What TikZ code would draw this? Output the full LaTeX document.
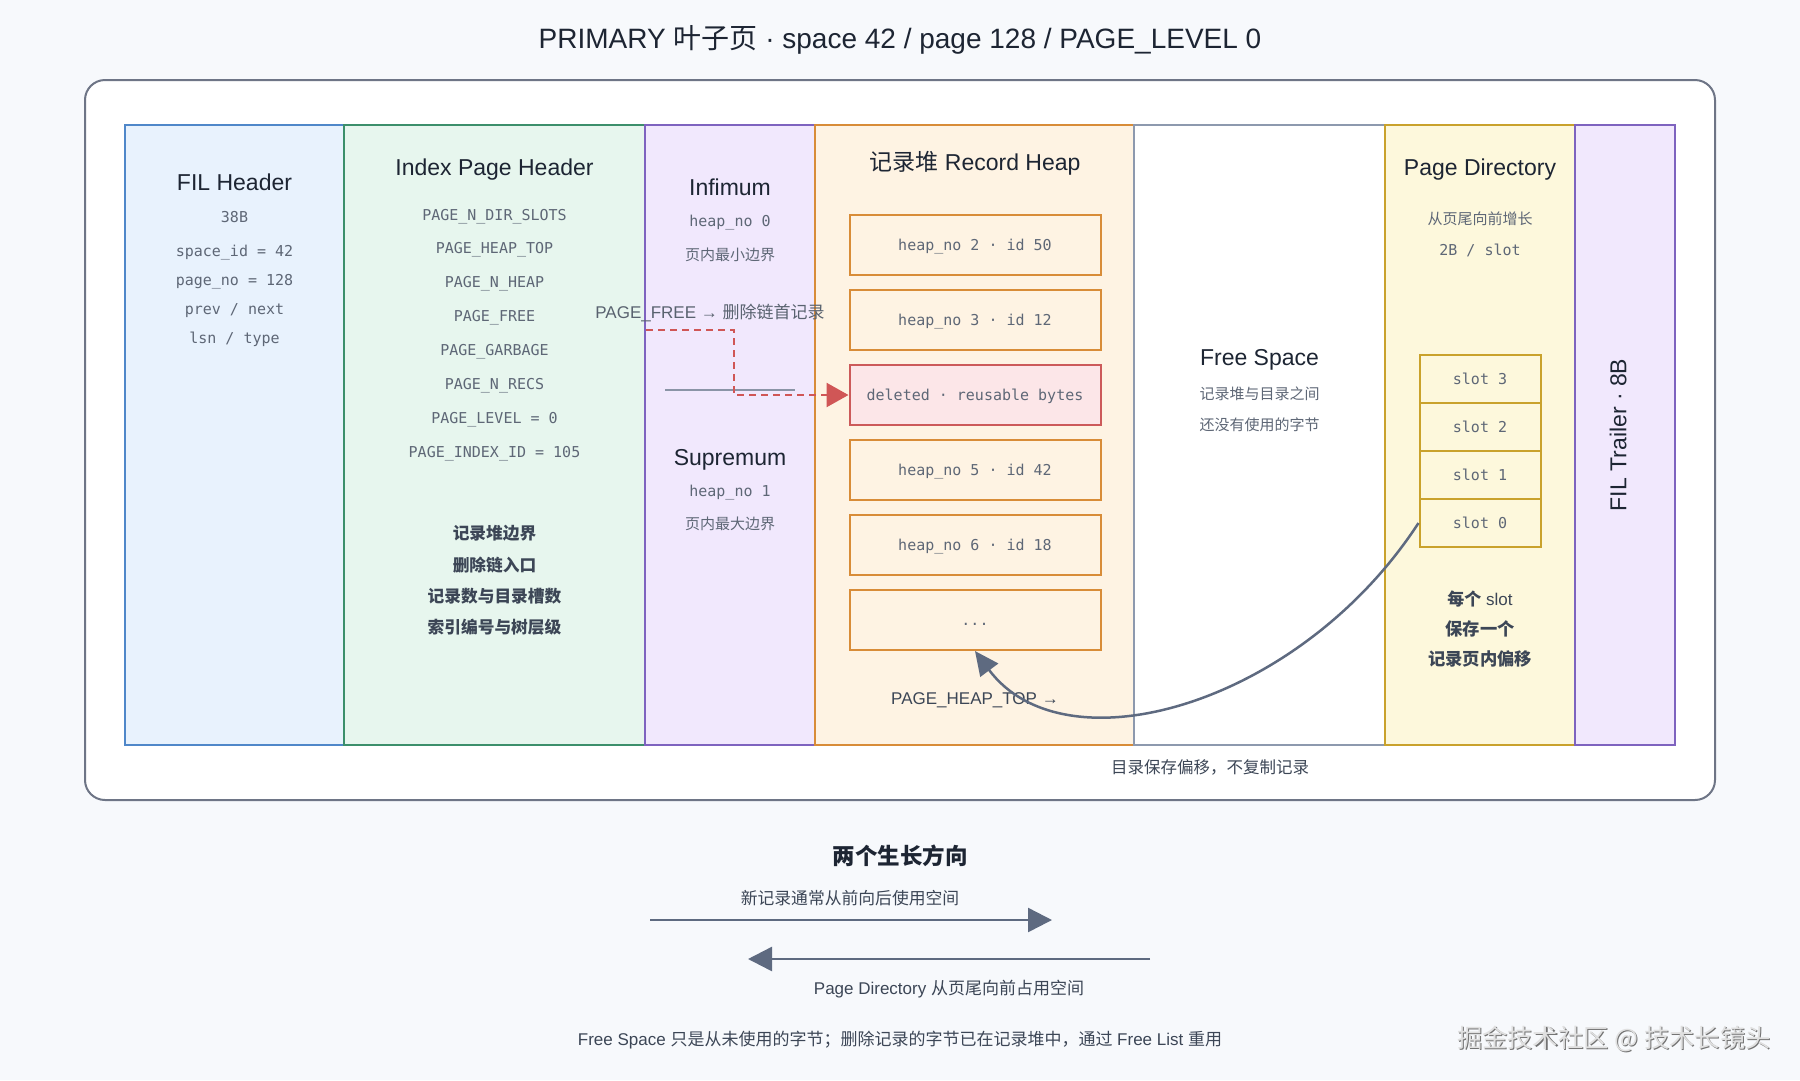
\documentclass[tikz,border=0pt]{standalone}
\usepackage{fontspec}
\setmainfont{Liberation Sans}
\setmonofont{DejaVu Sans Mono}
\newfontfamily\cjk{Noto Sans CJK SC}
\usetikzlibrary{arrows.meta}
\newcommand\zh[1]{{\cjk #1}}
\definecolor{bgc}{HTML}{F7F9FC}
\definecolor{frameline}{HTML}{6E7586}
\definecolor{ink}{HTML}{1D2533}
\definecolor{muted}{HTML}{5E6776}
\definecolor{darktx}{HTML}{3C4656}
\definecolor{filfill}{HTML}{E8F2FD}
\definecolor{filline}{HTML}{4F87C9}
\definecolor{idxfill}{HTML}{E7F6EE}
\definecolor{idxline}{HTML}{3C8F6B}
\definecolor{inffill}{HTML}{F1E8FD}
\definecolor{infline}{HTML}{7E63BF}
\definecolor{heapfill}{HTML}{FEF3E3}
\definecolor{heapline}{HTML}{D88C38}
\definecolor{freeline}{HTML}{8D99AE}
\definecolor{pdfill}{HTML}{FDF8DC}
\definecolor{pdline}{HTML}{C9A22C}
\definecolor{delfill}{HTML}{FCE6E8}
\definecolor{delline}{HTML}{CC5A5A}
\definecolor{redarrow}{HTML}{D05656}
\definecolor{slatec}{HTML}{5E6A80}
\definecolor{sepc}{HTML}{8A94A6}
\begin{document}
\begin{tikzpicture}[x=1pt,y=-1pt,
  col/.style={line width=2pt, minimum height=620pt, inner sep=0pt},
  hd/.style={font=\fontsize{23}{27}\selectfont, text=ink, text height=16.6pt, text depth=0pt, inner sep=0pt},
  mono/.style={font=\ttfamily\fontsize{15}{18}\selectfont, text=muted, text height=10.8pt, text depth=0pt, inner sep=0pt},
  cn/.style={font=\cjk\fontsize{15}{18}\selectfont, text=muted, text height=11.4pt, text depth=0pt, inner sep=0pt},
  cnb/.style={font=\cjk\bfseries\fontsize{16.7}{20}\selectfont, text=darktx, text height=12.6pt, text depth=0pt, inner sep=0pt},
  lbl/.style={font=\fontsize{17}{20}\selectfont, text=darktx, text height=12.2pt, text depth=0pt, inner sep=0pt},
  rec/.style={draw=heapline, fill=heapfill, line width=2pt, minimum width=251pt, minimum height=60pt, inner sep=0pt,
    font=\ttfamily\fontsize{15}{18}\selectfont, text=muted, text height=10.8pt, text depth=0pt},
  slotbox/.style={draw=pdline, fill=pdfill, line width=2pt, minimum width=121pt, minimum height=48pt, inner sep=0pt,
    font=\ttfamily\fontsize{15}{18}\selectfont, text=muted, text height=10.8pt, text depth=0pt},
  reddash/.style={draw=redarrow, line width=2.5pt, dash pattern=on 7pt off 5pt, -{Triangle[length=22pt,width=24pt,fill=redarrow]}},
  curvearrow/.style={draw=slatec, line width=2.5pt, -{Triangle[length=24pt,width=22pt,fill=slatec]}},
  growarrow/.style={draw=slatec, line width=2.5pt, -{Triangle[length=24pt,width=24pt,fill=slatec]}},
]
\fill[bgc] (0,0) rectangle (1800,1080);
\useasboundingbox (0,0) rectangle (1800,1080);

% title
\node[font=\fontsize{28}{32}\selectfont, text=ink, text height=20.2pt, text depth=0pt, inner sep=0pt] (title) at (900,38)
  {PRIMARY \zh{叶子页} · space 42 / page 128 / PAGE\_LEVEL 0};

% outer frame
\node[draw=frameline, fill=white, line width=2pt, rounded corners=20pt, minimum width=1630pt, minimum height=720pt, inner sep=0pt] (frame) at (900,440) {};

% columns
\node[col, fill=filfill, draw=filline, minimum width=219pt] (fil) at (234.5,435) {};
\node[col, fill=idxfill, draw=idxline, minimum width=301pt] (idx) at (494.5,435) {};
\node[col, fill=inffill, draw=infline, minimum width=170pt] (inf) at (730,435) {};
\node[col, fill=heapfill, draw=heapline, minimum width=319pt] (heap) at (974.5,435) {};
\node[col, fill=white, draw=freeline, minimum width=251pt] (free) at (1259.5,435) {};
\node[col, fill=pdfill, draw=pdline, minimum width=190pt] (pd) at (1480,435) {};
\node[col, fill=inffill, draw=infline, minimum width=100pt] (trl) at (1625,435) {};

% FIL header
\node[hd] (filh) at (234.5,182) {FIL Header};
\node[mono] (fil1) at (234.5,217) {38B};
\node[mono] (fil2) at (234.5,251) {space\_id = 42};
\node[mono] (fil3) at (234.5,280) {page\_no = 128};
\node[mono] (fil4) at (234.5,309) {prev / next};
\node[mono] (fil5) at (234.5,338) {lsn / type};

% Index page header
\node[hd] (idxh) at (494.5,167) {Index Page Header};
\node[mono] (idx1) at (494.5,215) {PAGE\_N\_DIR\_SLOTS};
\node[mono] (idx2) at (494.5,248) {PAGE\_HEAP\_TOP};
\node[mono] (idx3) at (494.5,282) {PAGE\_N\_HEAP};
\node[mono] (idx4) at (494.5,316) {PAGE\_FREE};
\node[mono] (idx5) at (494.5,350) {PAGE\_GARBAGE};
\node[mono] (idx6) at (494.5,384) {PAGE\_N\_RECS};
\node[mono] (idx7) at (494.5,418) {PAGE\_LEVEL = 0};
\node[mono] (idx8) at (494.5,452) {PAGE\_INDEX\_ID = 105};
\node[cnb] (idx9) at (494.5,533) {记录堆边界};
\node[cnb] (idx10) at (494.5,565) {删除链入口};
\node[cnb] (idx11) at (494.5,596) {记录数与目录槽数};
\node[cnb] (idx12) at (494.5,627) {索引编号与树层级};

% Infimum / Supremum
\node[hd] (infh) at (730,187) {Infimum};
\node[mono] (inf1) at (730,221) {heap\_no 0};
\node[cn] (inf2) at (730,255) {页内最小边界};
\coordinate (sepL) at (665,390);
\coordinate (sepR) at (795,390);
\draw[draw=sepc, line width=2pt] (sepL) -- (sepR);
\node[hd] (suph) at (730,457) {Supremum};
\node[mono] (sup1) at (730,491) {heap\_no 1};
\node[cn] (sup2) at (730,524) {页内最大边界};

% Record heap
\node[hd] (heaph) at (975,162) {\zh{记录堆} Record Heap};
\node[rec] (r2) at (975,245) {heap\_no 2 · id 50};
\node[rec] (r3) at (975,320) {heap\_no 3 · id 12};
\node[rec, draw=delline, fill=delfill] (rdel) at (975,395) {deleted · reusable bytes};
\node[rec] (r5) at (975,470) {heap\_no 5 · id 42};
\node[rec] (r6) at (975,545) {heap\_no 6 · id 18};
\node[rec] (rmore) at (975,620) {...};
\node[lbl] (htlbl) at (975,698) {PAGE\_HEAP\_TOP →};

% Free space
\node[hd] (freeh) at (1259.5,357) {Free Space};
\node[cn] (free1) at (1259.5,394) {记录堆与目录之间};
\node[cn] (free2) at (1259.5,425) {还没有使用的字节};

% Page directory
\node[hd] (pdh) at (1480,167) {Page Directory};
\node[cn] (pd1) at (1480,219) {从页尾向前增长};
\node[mono] (pd2) at (1480,250) {2B / slot};
\node[slotbox] (s3) at (1480,379) {slot 3};
\node[slotbox] (s2) at (1480,427) {slot 2};
\node[slotbox] (s1) at (1480,475) {slot 1};
\node[slotbox] (s0) at (1480,523) {slot 0};
\node[lbl] (pd3) at (1480,599) {\zh{\bfseries 每个} slot};
\node[cnb, font=\cjk\bfseries\fontsize{17.3}{20}\selectfont] (pd4) at (1480,629) {保存一个};
\node[cnb, font=\cjk\bfseries\fontsize{17.3}{20}\selectfont] (pd5) at (1480,659) {记录页内偏移};

% FIL trailer
\node[hd, rotate=90] (trlh) at (1618,435) {FIL Trailer · 8B};

% PAGE_FREE connector
\coordinate (pfy) at (0,330);
\coordinate (pfbend) at (734,330);
\draw[reddash] (idx.east |- pfy) -- (pfbend) |- (rdel.west);
\node[lbl, text=darktx!85!white] (pflbl) at (710,312) {PAGE\_FREE → \zh{删除链首记录}};

% directory slot -> record
\draw[curvearrow] (s0.west) .. controls (1300,705) and (1065,772) .. (rmore.south);

\node[cn, font=\cjk\fontsize{16.5}{19}\selectfont, text=darktx] (offlbl) at (1210,768) {目录保存偏移，不复制记录};

% growth directions
\node[cnb, font=\cjk\bfseries\fontsize{22.5}{26}\selectfont, text=ink, text height=17pt] (growh) at (900,856) {两个生长方向};
\node[cn, font=\cjk\fontsize{16.8}{20}\selectfont, text=darktx] (grow1) at (850,899) {新记录通常从前向后使用空间};
\coordinate (g1a) at (650,920);
\coordinate (g1b) at (1052,920);
\draw[growarrow] (g1a) -- (g1b);
\coordinate (g2a) at (1150,959);
\coordinate (g2b) at (748,959);
\draw[growarrow] (g2a) -- (g2b);
\node[lbl] (grow2) at (949,988) {Page Directory \zh{从页尾向前占用空间}};
\node[lbl] (note) at (900,1039) {Free Space \zh{只是从未使用的字节；删除记录的字节已在记录堆中，通过} Free List \zh{重用}};

% watermark
\node[font=\cjk\fontsize{25.3}{30}\selectfont, text=black!55, text height=19pt, text depth=0pt, inner sep=0pt, anchor=east] (wmshadow) at (1772,1039) {掘金技术社区 @ 技术长镜头};
\node[font=\cjk\fontsize{25.3}{30}\selectfont, text=black!12, text height=19pt, text depth=0pt, inner sep=0pt, anchor=east] (wm) at (1770.8,1037.8) {掘金技术社区 @ 技术长镜头};
\end{tikzpicture}
\end{document}
